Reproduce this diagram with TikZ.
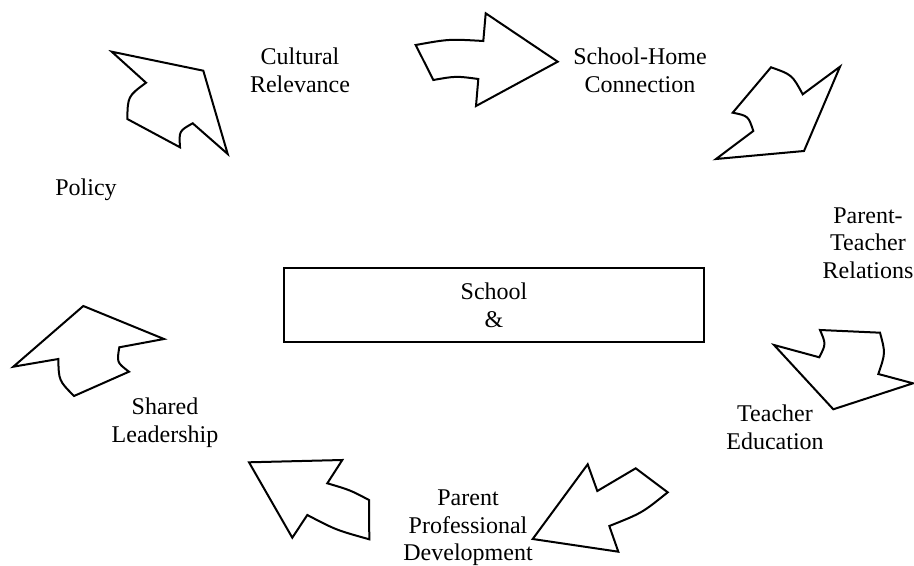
\documentclass[tikz,border=0pt]{standalone}
\usepackage{fontspec}
\setmainfont{Liberation Serif}

\begin{document}
\begin{tikzpicture}[x=0.5pt,y=-0.5pt,
   label/.style={align=center,inner sep=0pt,font=\fontsize{12}{13.8}\selectfont},
   blockarrow/.style={draw,line width=1pt,line join=miter,fill=white}]

% Canvas (top left is the origin, y runs down)
\useasboundingbox (0,0) rectangle (914,566);

% Centre box
\node[label,draw,line width=1.1pt,minimum width=210pt,minimum height=37pt] (school) at (494,305) {School\\\&};

% Labels round the cycle
\node[label] (culture) at (300,70) {Cultural\\Relevance};
\node[label] (home) at (640,70) {School-Home\\Connection};
\node[label] (relations) at (868,243) {Parent-\\Teacher\\Relations};
\node[label] (teachered) at (775,427) {Teacher\\Education};
\node[label] (profdev) at (468,528) {Parent\\Professional\\Development};
\node[label] (leadership) at (165,423) {Shared\\Leadership};
\node[label] (policy) at (86,190) {Policy};

% Block arrows, clockwise from the top left
% policy -> culture
\draw[blockarrow] (111.7,51.7) -- (203.3,70.7) -- (227.7,154) -- (192.7,123.3)
   .. controls (179,131) .. (180,147.3) -- (127.3,119)
   .. controls (127.8,96.3) .. (146,82.7) -- cycle;
% culture -> home
\draw[blockarrow] (415.7,45) .. controls (449,39) .. (483.3,41) -- (485.7,13.3)
   -- (557.7,61.7) -- (476,106) -- (478.3,79)
   .. controls (456,76) .. (433.3,80) -- cycle;
% home -> relations
\draw[blockarrow] (771,67.3) .. controls (792,74.7) .. (802.7,94.3) -- (840,66.7)
   -- (804,151) -- (716,159) -- (753.3,131)
   .. controls (748.3,115.9) .. (732.7,112.7) -- cycle;
% relations -> teacher education
\draw[blockarrow] (774,345) -- (819.3,357.3) .. controls (826,344) .. (820,330)
   -- (880,332.7) .. controls (885.5,353) .. (878.3,374)
   -- (913,383.3) -- (833.3,409.3) -- cycle;
% teacher education -> professional development
\draw[blockarrow] (587.7,464.3) -- (597.3,491) -- (635.7,468.3) -- (667.7,492.3)
   .. controls (642,513) .. (609.3,526) -- (618.3,551.7) -- (532.7,539) -- cycle;
% professional development -> leadership
\draw[blockarrow] (249,462.3) -- (342.3,460) -- (327.3,483.3)
   .. controls (350,490) .. (369,500) -- (369.3,539.3)
   .. controls (336,530) .. (307.3,515) -- (292.3,537.7) -- cycle;
% leadership -> policy
\draw[blockarrow] (13.3,366.7) -- (83.3,306) -- (164,339) -- (119.3,347.3)
   .. controls (116.8,362.5) .. (129,371.7) -- (74,396)
   .. controls (58.8,380.6) .. (58.3,359) -- cycle;

\end{tikzpicture}
\end{document}
